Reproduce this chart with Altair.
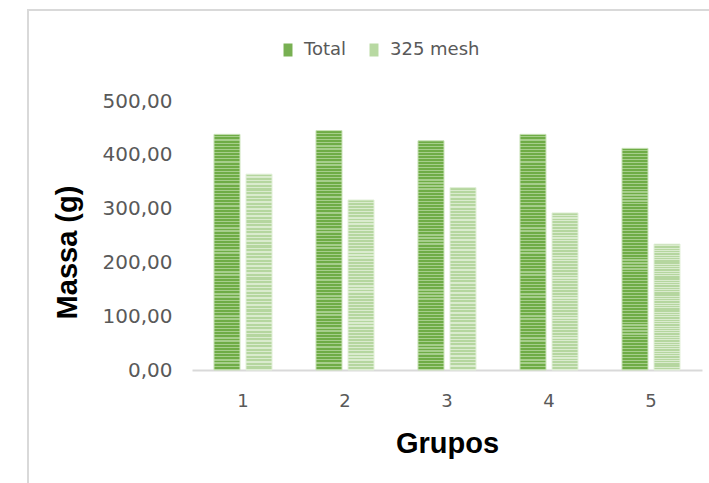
import altair as alt
import pandas as pd

grupos = ["1", "2", "3", "4", "5"]
series = ["Total", "325 mesh"]
total = [438, 445, 426, 438, 412]
mesh = [364, 316, 339, 292, 234]

rows = []
for g, t, m in zip(grupos, total, mesh):
    rows.append({"grupo": g, "serie": "Total", "valor": t})
    rows.append({"grupo": g, "serie": "325 mesh", "valor": m})
df = pd.DataFrame(rows)


def stripes(a, b, n, frac=0.6):
    stops = []
    for i in range(n):
        s = i / n
        m = (i + frac) / n
        e = (i + 1) / n
        stops += [
            alt.GradientStop(offset=s, color=a),
            alt.GradientStop(offset=m, color=a),
            alt.GradientStop(offset=m, color=b),
            alt.GradientStop(offset=e, color=b),
        ]
    return alt.LinearGradient(gradient="linear", stops=stops, x1=0, x2=0, y1=0, y2=1)


LABEL_FONT = "DejaVu Sans"
TEXT_COLOR = "#595959"

x_enc = alt.X(
    "grupo:N",
    sort=grupos,
    scale=alt.Scale(paddingInner=0.431, paddingOuter=0.2155),
    axis=alt.Axis(
        title="Grupos",
        labelAngle=0,
        ticks=False,
        domainColor="#d9d9d9",
        domainWidth=2,
        labelFont=LABEL_FONT,
        labelFontSize=18,
        labelColor=TEXT_COLOR,
        labelPadding=22,
        titleFont="Liberation Sans",
        titleFontSize=29,
        titleFontWeight="bold",
        titleColor="#000000",
        titleX=255,
        titleY=82,
        titleAlign="center",
        titleBaseline="alphabetic",
    ),
)
xo_enc = alt.XOffset(
    "serie:N",
    sort=series,
    scale=alt.Scale(domain=series, paddingInner=0.1875, paddingOuter=0),
)
y_enc = alt.Y(
    "valor:Q",
    scale=alt.Scale(domain=[0, 500], nice=False),
    axis=alt.Axis(
        title="Massa (g)",
        values=[0, 100, 200, 300, 400, 500],
        labelExpr="replace(format(datum.value, '.2f'), '.', ',')",
        grid=False,
        ticks=False,
        domain=False,
        labelFont=LABEL_FONT,
        labelFontSize=20,
        labelColor=TEXT_COLOR,
        labelPadding=20,
        titleFont="Liberation Sans",
        titleFontSize=29,
        titleFontWeight="bold",
        titleColor="#000000",
        titleAngle=270,
        titleX=-125,
        titleY=151,
        titleAlign="center",
        titleBaseline="middle",
    ),
)

base = alt.Chart(df)

bars_total = base.transform_filter(alt.datum.serie == "Total").mark_bar(
    color=stripes("#6FAC46", "#A6CE8B", 75),
    stroke="#C9E2B8",
    strokeWidth=1,
).encode(x=x_enc, xOffset=xo_enc, y=y_enc)

bars_mesh = base.transform_filter(alt.datum.serie == "325 mesh").mark_bar(
    color=stripes("#B5D69F", "#DAEBCE", 55),
    stroke="#E2F0D9",
    strokeWidth=1,
).encode(x=x_enc, xOffset=xo_enc, y=y_enc)

legend_layer = base.mark_point(opacity=0, filled=True).encode(
    x=x_enc,
    xOffset=xo_enc,
    y=y_enc,
    color=alt.Color(
        "serie:N",
        sort=series,
        scale=alt.Scale(domain=series, range=["#78B052", "#B8D9A2"]),
        legend=alt.Legend(
            title=None,
            orient="none",
            direction="horizontal",
            legendX=87,
            legendY=-60,
            symbolType="M-0.69,-1h1.38v2h-1.38z",
            symbolSize=169,
            symbolOpacity=1,
            symbolStrokeWidth=0,
            labelFont=LABEL_FONT,
            labelFontSize=18,
            labelColor=TEXT_COLOR,
            labelOffset=7,
            columnPadding=18,
            padding=0,
        ),
    ),
)

border = alt.Chart(pd.DataFrame({"a": [0]})).mark_rect(
    fillOpacity=0, stroke="#d9d9d9", strokeWidth=2
).encode(
    x=alt.value(-164), x2=alt.value(800), y=alt.value(-91), y2=alt.value(700)
)

chart = (
    alt.layer(border, bars_total, bars_mesh, legend_layer)
    .properties(
        width=510,
        height=269,
        autosize="none",
        padding={"left": 192, "top": 101, "right": 7, "bottom": 113},
        background="white",
    )
    .configure_view(strokeWidth=0)
)

chart.save("out.html", embed_options={"renderer": "svg", "actions": False})
